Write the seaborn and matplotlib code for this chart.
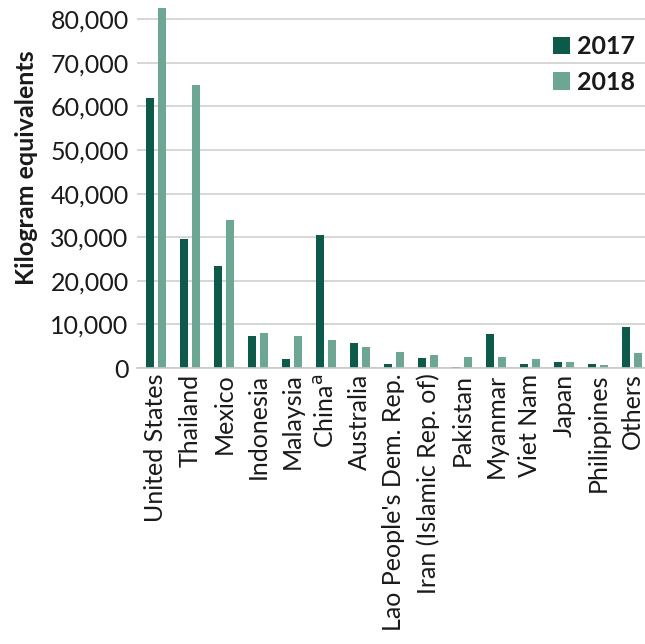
import matplotlib
matplotlib.use("Agg")
import matplotlib.pyplot as plt
import seaborn as sns
import pandas as pd

countries = ["United States", "Thailand", "Mexico", "Indonesia", "Malaysia",
             "China$^{\\mathrm{a}}$", "Australia", "Lao People's Dem. Rep.",
             "Iran (Islamic Rep. of)", "Pakistan", "Myanmar", "Viet Nam",
             "Japan", "Philippines", "Others"]
v2017 = [62000, 29500, 23300, 7300, 2100, 30600, 5700, 900, 2200, 200, 7700, 900, 1300, 900, 9500]
v2018 = [82500, 65000, 34000, 8100, 7300, 6400, 4900, 3700, 3000, 2600, 2600, 2000, 1300, 800, 3400]
years = ["2017", "2018"]
yticks = [0, 10000, 20000, 30000, 40000, 50000, 60000, 70000, 80000]

df = pd.DataFrame({
    "country": countries * 2,
    "year": [years[0]] * len(countries) + [years[1]] * len(countries),
    "value": v2017 + v2018,
})

sns.set_theme(style="white")
plt.rcParams['font.family'] = ['Lato', 'DejaVu Sans']

fig = plt.figure(figsize=(6.45, 6.44), dpi=100)
ax = fig.add_axes([137 / 645, 1 - 368 / 644, 1 - 137 / 645, 368 / 644])

palette = {"2017": "#0d5a4a", "2018": "#6da794"}
sns.barplot(data=df, x="country", y="value", hue="year", palette=palette,
            width=0.7, gap=0.3, ax=ax, saturation=1, linewidth=0)

ax.set_xlim(-0.55, 14.38)
ax.set_ylim(0, 84400)
ax.set_yticks(yticks)
ax.set_yticklabels([f"{t:,}" for t in yticks], fontsize=18, color="#1a1a1a")
ax.yaxis.grid(True, color="#d0d0d0", linewidth=1.2)
ax.set_axisbelow(True)
ax.tick_params(axis="x", labelrotation=90, labelsize=18, length=0, pad=4,
               labelcolor="#1a1a1a")
ax.tick_params(axis="y", length=0, pad=6)
for s in ["top", "right", "left"]:
    ax.spines[s].set_visible(False)
ax.spines["bottom"].set_color("#c8c8c8")
ax.spines["bottom"].set_linewidth(1.2)
ax.set_xlabel("")
ax.set_ylabel("Kilogram equivalents", fontsize=18, fontweight="bold",
              color="#1a1a1a")
ax.yaxis.set_label_coords(-0.195, 0.545)

leg = ax.legend(loc="upper right", bbox_to_anchor=(1.025, 0.965), frameon=False,
                handlelength=0.65, handleheight=0.7, handletextpad=0.3,
                labelspacing=0.5, prop={"size": 18, "weight": "bold"})
for t in leg.get_texts():
    t.set_color("#1a1a1a")

fig.savefig("out.png", dpi=100)
